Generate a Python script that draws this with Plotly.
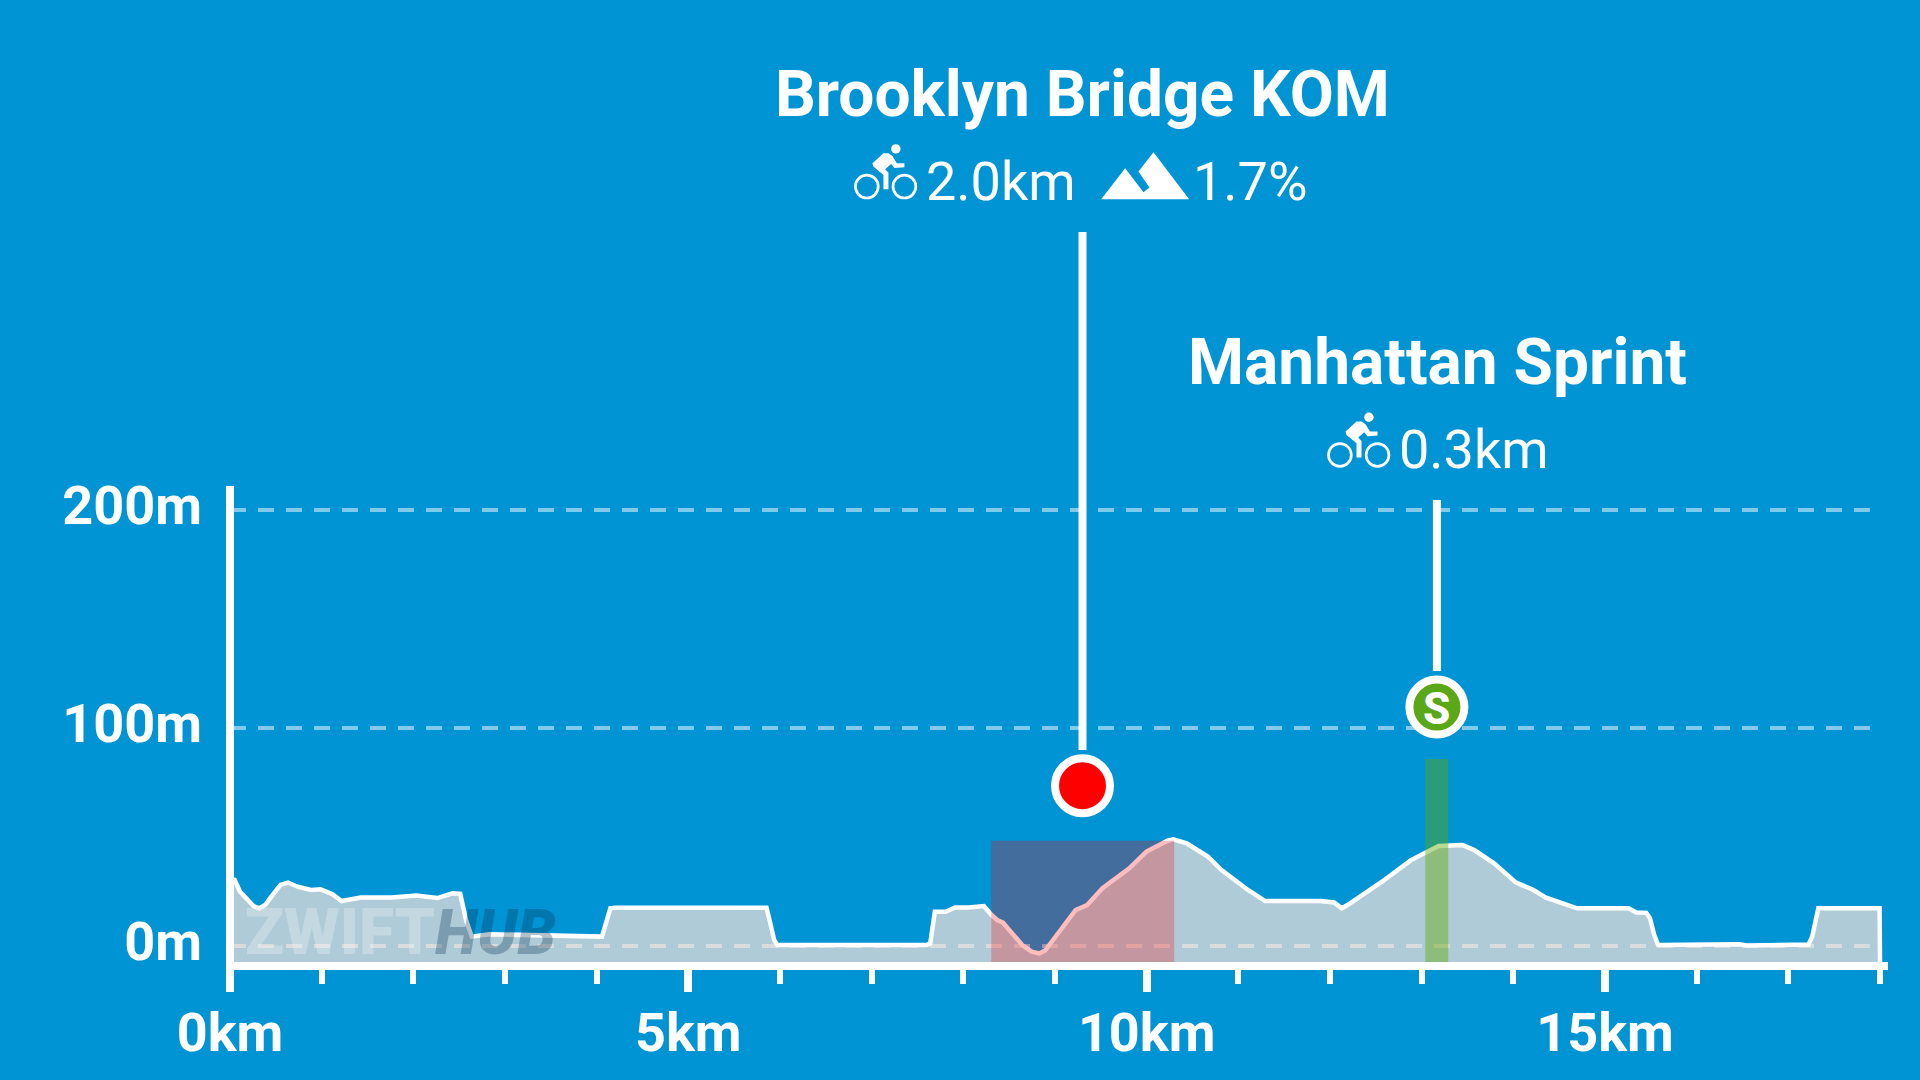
import plotly.graph_objects as go

# elevation profile
distance_km = [0, 0.05, 0.11, 0.174, 0.257, 0.32, 0.383, 0.445, 0.495, 0.55, 0.633, 0.737, 0.884, 0.988,
               1.113, 1.218, 1.426, 1.76, 2.032, 2.262, 2.429, 2.512, 2.575, 2.637, 2.825, 3.347, 3.681,
               4.057, 4.09, 4.149, 4.203, 5.853, 5.894, 5.936, 5.97, 7.597, 7.639, 7.689, 7.806, 7.911,
               8.057, 8.224, 8.308, 8.37, 8.432, 8.516, 8.642, 8.745, 8.829, 8.892, 9.058, 9.225, 9.351,
               9.518, 9.81, 9.998, 10.228, 10.29, 10.437, 10.667, 10.813, 11.105, 11.293, 11.899, 12.045,
               12.128, 12.191, 12.567, 12.883, 13.185, 13.445, 13.573, 13.79, 14.026, 14.22, 14.35,
               14.695, 15.256, 15.342, 15.45, 15.49, 15.537, 15.58, 16.464, 16.55, 17.22, 17.26, 17.327,
               17.995, 18.0]
elevation_m = [31, 30.3, 24.9, 21.9, 18.3, 17.3, 18.8, 22.3, 24.9, 28, 29.1, 27.2, 25.7, 26,
               23.9, 20.6, 22.2, 22.3, 23.1, 22, 24.2, 23.9, 11.9, 4.3, 5.4, 5, 5,
               4.3, 8.9, 17.3, 17.6, 17.6, 10.4, 2.75, 0.46, 0.46, 1.2, 15.7, 15.7, 17.7,
               17.7, 18.3, 14.2, 11.9, 10.7, 6.6, 0.46, -2.6, -3.4, -2.1, 7.3, 16.5, 18.8,
               26.5, 35.6, 43.3, 48.3, 48.9, 47.1, 41, 34.9, 25.7, 20.6, 20.6, 20,
               17.3, 18.8, 29.5, 39.4, 45.9, 46.3, 44, 37.9, 29.2, 25.7, 22.3,
               17.3, 17.3, 15.4, 15.2, 12.7, 5, 0.46, 0.76, 0.2, 0.7, 4.3, 17.3,
               17.3, -7.34]

y_ticks = [0, 100, 200]
y_labels = ["0m", "100m", "200m"]
x_ticks = [0, 5, 10, 15]
x_labels = ["0km", "5km", "10km", "15km"]
x_minor = list(range(1, 19))

y_bottom = -7.34
y_top = 433.9
y_axis_end = 211
grid_end_km = 17.89

kom_span = [8.304, 10.3]
kom_top = 48.3
kom_km = 9.3
kom_marker_m = 73.5
kom_stem = [89.9, 327.5]
kom_name = "Brooklyn Bridge KOM"
kom_length = "2.0km"
kom_grade = "1.7%"

sprint_span = [13.04, 13.29]
sprint_top = 85.8
sprint_km = 13.166
sprint_marker_m = 109.6
sprint_stem = [126.1, 204.6]
sprint_name = "Manhattan Sprint"
sprint_length = "0.3km"

BG = "#0094d4"
AREA = "rgba(255,228,218,0.69)"
KOM_BAND = "rgba(255,0,0,0.26)"
SPRINT_BAND = "rgba(98,169,0,0.43)"
SPRINT_GREEN = "#5aa817"
FONT = "Roboto"

# px per km / px per metre, only used to place the small icons
PX_KM = 91.65
PX_M = 2.18


def px_km(px):
    return (px - 230) / PX_KM


def px_m(py):
    return (946 - py) / PX_M


BIKE_BODY = [(38.3, 13.3), (43.3, 13.3), (47.3, 16), (51.7, 23.3), (59.3, 23.3), (59.3, 27.3), (49.3, 28),
             (46, 24), (40, 29.3), (43.3, 32.7), (43.3, 49.3), (38.3, 49.3), (38.3, 35), (28.3, 26.7), (27.3, 23.3)]
MOUNTAIN = [(6, 54.3), (30, 23.3), (48.3, 47.3), (54.3, 42.7), (43.3, 26.7), (58.3, 7.3), (94, 54.3)]


def poly_shape(points, left, top):
    path = "M " + " L ".join(f"{x},{-y}" for x, y in points) + " Z"
    return dict(type="path", path=path, xsizemode="pixel", ysizemode="pixel",
                xanchor=px_km(left), yanchor=px_m(top), fillcolor="white", line_width=0, layer="above")


def ring_shape(cx, cy, r, left, top, width=0, fill="rgba(0,0,0,0)"):
    return dict(type="circle", xsizemode="pixel", ysizemode="pixel",
                xanchor=px_km(left), yanchor=px_m(top),
                x0=cx - r, x1=cx + r, y0=-cy - r, y1=-cy + r,
                fillcolor=fill, line=dict(color="white", width=width), layer="above")


def bike_icon(left, top):
    return [
        poly_shape(BIKE_BODY, left, top),
        ring_shape(50.7, 9, 4.7, left, top, fill="white"),
        ring_shape(21.7, 46.7, 11.4, left, top, width=2.7),
        ring_shape(59.3, 46.7, 11.4, left, top, width=2.7),
    ]


fig = go.Figure()
fig.add_trace(go.Scatter(x=distance_km, y=[y_bottom] * len(distance_km), mode="lines",
                         line=dict(width=0), hoverinfo="skip", showlegend=False))
fig.add_trace(go.Scatter(x=distance_km, y=elevation_m, mode="lines", fill="tonexty", fillcolor=AREA,
                         line=dict(color="white", width=4.5), showlegend=False))

# stems and markers
fig.add_trace(go.Scatter(x=[kom_km, kom_km], y=kom_stem, mode="lines",
                         line=dict(color="white", width=8), showlegend=False))
fig.add_trace(go.Scatter(x=[sprint_km, sprint_km], y=sprint_stem, mode="lines",
                         line=dict(color="white", width=8), showlegend=False))
fig.add_trace(go.Scatter(x=[kom_km], y=[kom_marker_m], mode="markers",
                         marker=dict(size=55, color="#ff0000", line=dict(color="white", width=8)),
                         showlegend=False))
fig.add_trace(go.Scatter(x=[sprint_km], y=[sprint_marker_m], mode="markers",
                         marker=dict(size=55, color=SPRINT_GREEN, line=dict(color="white", width=8)),
                         showlegend=False))

shapes = []
for tick in y_ticks:
    shapes.append(dict(type="line", x0=0, x1=grid_end_km, y0=tick, y1=tick, layer="below",
                       line=dict(color="rgba(255,255,255,0.5)", width=4, dash="16px,12px")))
shapes.append(dict(type="line", x0=0, x1=0, y0=y_bottom, y1=y_axis_end, layer="above",
                   line=dict(color="white", width=8)))
shapes.append(dict(type="rect", x0=kom_span[0], x1=kom_span[1], y0=y_bottom, y1=kom_top, layer="above",
                   fillcolor=KOM_BAND, line_width=0))
shapes.append(dict(type="rect", x0=sprint_span[0], x1=sprint_span[1], y0=y_bottom, y1=sprint_top, layer="above",
                   fillcolor=SPRINT_BAND, line_width=0))
shapes += bike_icon(845, 140)
shapes += bike_icon(1318, 408.3)
shapes.append(poly_shape(MOUNTAIN, 1095, 145))


def label(text, px, py, size, weight=400):
    return dict(x=px_km(px), y=px_m(py), text=text, showarrow=False, xanchor="center", yanchor="middle",
                font=dict(family=FONT, size=size, color="white", weight=weight))


annotations = [
    label(kom_name, 1082, 94.5, 64, 700),
    label(sprint_name, 1437, 362.5, 64, 700),
    label(kom_length, 1000.5, 182, 54),
    label(kom_grade, 1250.5, 182, 54),
    label(sprint_length, 1473.5, 449.5, 54),
    label("S", 1436.7, 709, 44, 800),
    dict(x=px_km(243), y=px_m(932), xanchor="left", yanchor="middle", showarrow=False, text="ZWIFT",
         font=dict(family=FONT, size=64, weight=900, color="rgba(255,255,255,0.25)")),
    dict(x=px_km(433), y=px_m(932), xanchor="left", yanchor="middle", showarrow=False, text="<i>HUB</i>",
         font=dict(family=FONT, size=62, weight=900, color="rgba(0,50,80,0.3)")),
]

fig.update_layout(
    width=1920,
    height=1080,
    paper_bgcolor=BG,
    plot_bgcolor=BG,
    margin=dict(l=226, r=32, t=0, b=118),
    showlegend=False,
    shapes=shapes,
    annotations=annotations,
    xaxis=dict(
        range=[-4 / PX_KM, 18.087],
        tickmode="array",
        tickvals=x_ticks,
        ticktext=x_labels,
        ticks="outside",
        ticklen=22,
        tickwidth=8,
        tickcolor="white",
        showline=True,
        linewidth=8,
        linecolor="white",
        showgrid=False,
        zeroline=False,
        ticklabelstandoff=-6,
        tickfont=dict(family=FONT, size=54, color="white", weight=700),
        minor=dict(tickvals=x_minor, ticks="outside", ticklen=14, tickwidth=6, tickcolor="white", showgrid=False),
    ),
    yaxis=dict(
        range=[y_bottom, y_top],
        tickmode="array",
        tickvals=y_ticks,
        ticktext=y_labels,
        ticks="",
        showline=False,
        showgrid=False,
        zeroline=False,
        ticklabelstandoff=23,
        ticklabelshift=-5,
        tickfont=dict(family=FONT, size=54, color="white", weight=700),
    ),
)

fig.write_html("out.html", config={"displayModeBar": False},
               post_script="document.body.style.margin='0';document.body.style.overflow='hidden';")
